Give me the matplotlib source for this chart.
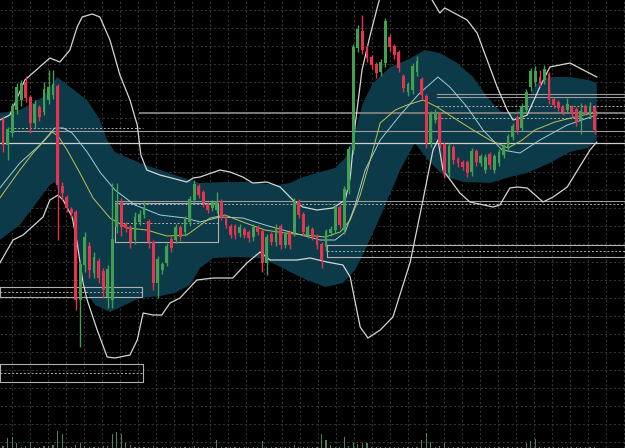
import numpy as np
import matplotlib.pyplot as plt

# candles (price units, one per bar)
opens = [328, 303, 315, 338, 348, 365, 350, 325, 340, 336, 348, 353, 361, 261, 250, 238, 235, 148, 183, 201,
         175, 186, 176, 151, 148, 221, 245, 223, 220, 208, 226, 233, 226, 205, 165, 178, 185, 208, 208, 220,
         216, 226, 248, 261, 255, 243, 240, 238, 246, 230, 221, 221, 215, 218, 215, 211, 220, 216, 185, 213,
         206, 221, 203, 215, 215, 246, 233, 213, 218, 211, 203, 201, 215, 218, 240, 218, 258, 298, 400, 416,
         400, 390, 383, 376, 385, 410, 401, 395, 371, 356, 358, 376, 368, 351, 305, 328, 333, 303, 275, 300,
         288, 285, 285, 276, 296, 285, 278, 293, 278, 285, 293, 301, 311, 330, 320, 338, 361, 366, 370, 368,
         373, 348, 345, 340, 338, 340, 338, 328, 341, 333, 340]
closes = [303, 318, 341, 360, 364, 350, 325, 343, 331, 358, 360, 363, 263, 255, 240, 235, 148, 183, 210, 178,
          190, 170, 158, 178, 208, 243, 221, 220, 206, 230, 233, 240, 206, 165, 188, 183, 201, 200, 220, 211,
          228, 248, 263, 253, 245, 238, 245, 246, 231, 223, 213, 213, 220, 213, 210, 220, 216, 185, 210, 206,
          220, 203, 213, 203, 246, 233, 216, 220, 211, 203, 188, 216, 218, 240, 223, 258, 298, 400, 418, 398,
          390, 383, 375, 385, 426, 401, 393, 380, 360, 363, 381, 386, 353, 305, 333, 335, 305, 275, 301, 288,
          285, 281, 275, 296, 286, 291, 290, 283, 291, 295, 301, 311, 321, 318, 341, 355, 376, 376, 365, 378,
          348, 343, 340, 336, 343, 335, 326, 336, 336, 341, 318]
highs = [332, 321, 345, 365, 368, 372, 353, 348, 343, 366, 378, 378, 364, 266, 253, 241, 238, 186, 216, 206,
         196, 190, 180, 183, 265, 265, 250, 226, 223, 236, 238, 246, 229, 208, 192, 186, 205, 212, 224, 223,
         232, 252, 268, 264, 258, 246, 248, 256, 249, 233, 224, 224, 224, 221, 218, 224, 223, 219, 214, 216,
         224, 224, 216, 218, 250, 249, 236, 223, 221, 214, 206, 219, 222, 244, 243, 262, 302, 404, 423, 433,
         403, 393, 386, 389, 430, 414, 404, 398, 374, 366, 385, 392, 371, 354, 337, 339, 336, 306, 305, 303,
         291, 288, 288, 300, 299, 294, 294, 296, 294, 299, 304, 314, 325, 333, 345, 359, 380, 382, 378, 383,
         376, 351, 348, 343, 350, 343, 341, 345, 344, 346, 343]
lows = [296, 288, 311, 334, 342, 346, 315, 320, 327, 333, 344, 349, 208, 248, 236, 230, 138, 101, 176, 170,
        170, 165, 150, 140, 140, 215, 212, 216, 200, 204, 223, 230, 200, 158, 150, 174, 182, 196, 205, 207,
        212, 222, 245, 250, 241, 235, 237, 235, 228, 220, 210, 209, 211, 210, 206, 207, 213, 176, 173, 203,
        202, 199, 200, 199, 212, 230, 212, 210, 208, 199, 180, 197, 212, 215, 220, 214, 254, 294, 396, 394,
        386, 379, 370, 372, 381, 397, 389, 376, 356, 352, 354, 372, 349, 300, 301, 325, 300, 270, 271, 284,
        281, 278, 271, 272, 282, 282, 275, 279, 275, 282, 290, 298, 308, 314, 317, 335, 357, 362, 361, 364,
        344, 340, 337, 333, 335, 331, 322, 314, 333, 330, 314]
volume = [2, 10, 11, 5, 1, 2, 6, 1, 1, 2, 2, 3, 17, 14, 2, 1, 3, 5, 2, 1,
          1, 1, 2, 2, 14, 16, 14, 5, 3, 1, 1, 1, 1, 2, 1, 1, 1, 1, 1, 1,
          1, 1, 2, 1, 1, 1, 1, 8, 1, 1, 1, 1, 1, 1, 1, 1, 1, 7, 1, 1,
          1, 1, 1, 1, 3, 1, 1, 1, 1, 1, 14, 8, 3, 1, 1, 11, 2, 5, 4, 5,
          5, 1, 1, 1, 1, 1, 1, 1, 1, 1, 1, 1, 8, 15, 6, 1, 2, 5, 1, 1,
          1, 1, 1, 1, 1, 1, 1, 1, 1, 1, 1, 1, 1, 1, 1, 5, 7, 9, 1, 1,
          1, 1, 1, 1, 1, 1, 1, 1, 1, 1, 1]

# teal channel
cloud_up_x = [-0.7, 3.7, 8.8, 11.9, 14.7, 18.5, 21.3, 22.9, 24.6, 30.1, 34.5, 37.8, 41.1, 43.3, 48.8, 54.3,
              60.2, 63.1, 65.3, 69.7, 73.0, 75.2, 76.9, 79.1, 81.3, 85.1, 88.8, 92.7, 96.0, 99.8, 103.3,
              106.4, 109.2, 112.1, 114.7, 116.9, 119.8, 124.6, 128.6, 130.5]
cloud_up = [335, 338, 351, 371, 361, 348, 328, 308, 296, 285, 278, 273, 268, 265, 266, 266,
            263, 265, 270, 276, 280, 290, 308, 345, 365, 381, 388, 398, 395, 385, 371,
            351, 337, 334, 343, 363, 371, 371, 368, 365]
cloud_lo_x = [-0.7, 3.7, 7.0, 10.3, 11.4, 12.5, 15.2, 16.5, 18.0, 20.2, 23.5, 26.8, 30.1, 34.5, 37.8, 41.1,
              43.3, 46.2, 51.0, 56.5, 60.2, 63.1, 66.8, 70.8, 74.7, 77.4, 79.6, 82.9, 87.3, 90.5, 93.4,
              97.1, 101.5, 107.0, 111.4, 115.2, 120.2, 124.6, 128.6, 130.5]
cloud_lo = [208, 223, 243, 263, 266, 253, 235, 198, 158, 143, 136, 143, 150, 152, 155, 163,
            180, 190, 191, 190, 183, 176, 168, 161, 165, 178, 198, 231, 278, 305, 288,
            271, 266, 265, 271, 275, 285, 296, 300, 308]

# outer envelope
env_up_x = [-0.7, 1.5, 4.8, 10.3, 12.5, 14.7, 16.3, 17.4, 19.6, 21.3, 23.5, 25.7, 27.9, 29.5, 30.3, 31.6,
            34.5, 40.4, 41.8, 43.3, 47.7, 49.9, 52.7, 54.9, 58.0, 60.9, 63.7, 65.9, 69.0, 72.5, 75.2,
            76.3, 77.4, 78.9, 80.7, 82.4, 84.0, 92.7, 94.3, 96.0, 97.1, 102.0, 104.2, 106.4, 108.6,
            110.8, 112.1, 113.6, 115.2, 118.0, 120.2, 124.6, 130.5]
env_up = [328, 333, 368, 390, 386, 398, 421, 431, 434, 431, 408, 373, 348, 323, 293, 278,
          273, 266, 270, 271, 278, 276, 271, 265, 266, 261, 248, 241, 238, 240, 248,
          270, 323, 378, 413, 443, 468, 468, 448, 435, 440, 428, 415, 388, 361,
          338, 328, 330, 333, 361, 381, 385, 371]
env_lo_x = [-0.7, 2.2, 4.4, 8.8, 10.3, 12.1, 13.2, 15.2, 16.3, 17.6, 18.5, 20.7, 22.9, 24.6, 27.9, 29.5,
            30.8, 33.0, 34.9, 36.7, 38.9, 42.6, 46.2, 50.5, 53.6, 56.5, 58.7, 64.6, 67.5, 71.2, 74.7,
            76.3, 78.5, 80.2, 82.9, 85.7, 89.5, 92.3, 94.5, 95.6, 96.7, 100.4, 102.6, 107.7, 109.2,
            111.4, 113.0, 115.2, 118.7, 120.9, 124.0, 129.0, 130.5]
env_lo = [185, 208, 213, 231, 248, 253, 248, 231, 205, 165, 148, 118, 91, 90, 93, 108,
          135, 133, 133, 145, 150, 168, 170, 170, 185, 196, 188, 188, 190, 186, 183,
          171, 121, 110, 118, 131, 186, 248, 298, 308, 278, 255, 246, 241, 243,
          260, 261, 260, 246, 251, 261, 298, 306]

# moving averages
ma_fast_x = [-0.7, 3.7, 6.6, 9.2, 10.8, 12.1, 14.1, 16.9, 19.8, 23.5, 27.3, 31.6, 36.0, 40.4, 45.5, 48.8,
             52.7, 57.6, 62.0, 66.4, 70.8, 74.1, 76.3, 78.5, 80.7, 82.9, 86.2, 88.8, 92.3, 95.4, 99.8,
             103.3, 107.0, 111.0, 114.1, 116.9, 121.3, 125.7, 130.5]
ma_fast = [250, 278, 295, 308, 316, 312, 298, 275, 250, 230, 220, 218, 212, 213, 230, 233,
           226, 218, 215, 213, 211, 216, 228, 253, 288, 325, 338, 343, 348, 341, 328,
           318, 308, 300, 308, 318, 326, 331, 336]
ma_slow_x = [-0.7, 3.7, 8.1, 11.4, 13.2, 15.2, 18.5, 21.3, 24.6, 29.0, 34.5, 40.0, 43.3, 47.7, 52.7, 57.6,
             63.1, 69.7, 73.0, 75.2, 77.4, 79.6, 82.9, 87.3, 91.6, 95.6, 98.2, 102.0, 105.5, 109.7,
             113.6, 118.0, 124.0, 130.5]
ma_slow = [260, 285, 303, 320, 320, 315, 296, 276, 258, 243, 233, 230, 226, 231, 230, 223,
           216, 208, 208, 216, 243, 278, 308, 333, 355, 371, 361, 341, 318, 298,
           295, 308, 323, 333]

# horizontal levels: (price, start bar, end bar, style)
levels = [(335, 30.1, 137, 'thick'), (317, 1.5, 137, 'solid'), (305, -0.7, 137, 'bright'),
          (320, 1.5, 30.8, 'dash'), (354, 95.4, 137, 'solid'), (351, 95.4, 137, 'solid'),
          (342, 95.4, 137, 'dash'), (330, 95.4, 137, 'dash'), (247, 24.6, 137, 'solid'),
          (244, 24.6, 137, 'dash')]
# zones: (top, bottom, start bar, end bar)
zones = [(245, 206, 24.6, 47.3), (203, 191, 71.2, 137), (161, 151, -0.7, 30.5), (84, 66, -0.7, 30.8)]

fig = plt.figure(figsize=(6.25, 4.48), dpi=100, facecolor='black')
ax = fig.add_axes([0, 0, 1, 1], facecolor='black')
ax.set_xlim(-0.66, 136.7)
ax.set_ylim(0, 448)

ax.set_xticks(np.arange(1.978, 137, 18 / 4.55))
ax.set_yticks(np.arange(6, 448, 18))
ax.grid(True, color='#333333', linestyle=(0, (2, 2)), linewidth=0.8)
ax.set_axisbelow(True)
ax.tick_params(length=0, labelbottom=False, labelleft=False)
for s in ax.spines.values():
    s.set_visible(False)

ax.fill(cloud_up_x + cloud_lo_x[::-1], cloud_up + cloud_lo[::-1], color='#0c3a49', lw=0, zorder=1)

ax.plot(env_up_x, env_up, color='#d6d6d6', lw=0.9, zorder=3)
ax.plot(env_lo_x, env_lo, color='#d6d6d6', lw=0.9, zorder=3)
ax.plot(ma_slow_x, ma_slow, color='#a3ccd6', lw=0.7, zorder=3)
ax.plot(ma_fast_x, ma_fast, color='#c0c255', lw=0.7, zorder=3)

styles = {'thick': dict(color='#7c7c7c', lw=1.4), 'solid': dict(color='#9c9c9c', lw=0.8),
          'bright': dict(color='#cfcfcf', lw=0.9), 'dash': dict(color='#b0b0b0', lw=0.7, ls=(0, (2, 2)))}
for p, x0, x1, st in levels:
    ax.plot([x0, x1], [p, p], zorder=2, **styles[st])
for top, bot, x0, x1 in zones:
    ax.plot([x0, x1, x1, x0, x0], [top, top, bot, bot, top], color='#b0b0b0', lw=0.8, zorder=2)
    ax.plot([x0, x1], [(top + bot) / 2] * 2, color='#b0b0b0', lw=0.7, ls=(0, (2, 2)), zorder=2)

idx = np.arange(len(opens))
o = np.array(opens); c = np.array(closes)
up = c >= o
cols = np.where(up, '#41a052', '#e5344f')
ax.vlines(idx, lows, highs, colors=cols, lw=1.0, zorder=4)
ax.bar(idx, np.abs(c - o) + 0.8, bottom=np.minimum(o, c), width=0.62, color=cols, lw=0, zorder=5)

vax = ax.twinx()
vax.set_ylim(0, 448)
vax.set_axis_off()
vax.bar(idx, volume, width=0.25, color='#4f7f5c', lw=0)

fig.savefig('out.png', dpi=100, facecolor='black')
